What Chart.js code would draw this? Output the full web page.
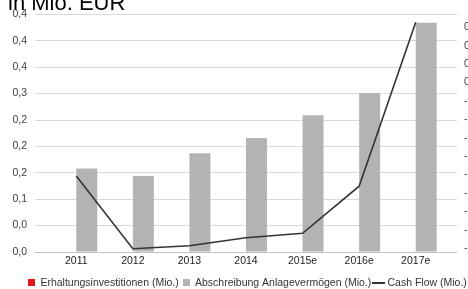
<!DOCTYPE html>
<html>
<head>
<meta charset="utf-8">
<script src="https://cdn.jsdelivr.net/npm/chart.js@4.4.0/dist/chart.umd.min.js"></script>
<style>
    html, body { margin: 0; padding: 0; background: #fff; overflow: hidden; width: 468px; height: 289px; }
    #myChartDiv { position: absolute; left: 0; top: -20px; width: 487px; height: 318px; }
</style>
</head>
<body>
<div id="myChartDiv"><canvas id="myChart" width="487" height="318"></canvas></div>
<script>
// data
const categories = ['2011', '2012', '2013', '2014', '2015e', '2016e', '2017e'];
const erhaltung = [null, null, null, null, null, null, null];
const abschreibung = [0.158, 0.144, 0.187, 0.216, 0.259, 0.301, 0.434];
const cashFlow = [-1.27, -2.26, -2.22, -2.11, -2.05, -1.41, 0.82];

const leftTickLabels = ['0,0', '0,0', '0,1', '0,2', '0,2', '0,2', '0,3', '0,4', '0,4', '0,4'];
const rightTickValues = [-2.25, -2.0, -1.75, -1.5, -1.25, -1.0, -0.75, -0.5, -0.25, 0, 0.25, 0.5, 0.75];
const rightTickLabels = ['-2,3', '-2,0', '-1,8', '-1,5', '-1,3', '-1,0', '-0,8', '-0,5', '-0,3', '0,0', '0,3', '0,5', '0,8'];

const fontFamily = '"Liberation Sans", Arial, sans-serif';
const gridColor = '#d9d9d9';
const baseColor = '#bfbfbf';

function makeMark(w, h, color) {
    var c = document.createElement('canvas');
    c.width = w;
    c.height = h;
    var g = c.getContext('2d');
    g.fillStyle = color;
    g.fillRect(0, 0, w, h);
    return c;
}

var legendMarks = [
    makeMark(7, 7, '#e3191c'),
    makeMark(7, 7, '#b3b3b3'),
    makeMark(13, 2, '#333333')
];

function gridLineColor(ctx) {
    return ctx.index === 0 ? baseColor : gridColor;
}

var ctx = document.getElementById('myChart');

var myChart = new Chart(ctx, {
    type: 'bar',
    data: {
        labels: categories,
        datasets: [
            {
                label: 'Erhaltungsinvestitionen (Mio.)',
                data: erhaltung,
                backgroundColor: '#e3191c',
                yAxisID: 'y',
                categoryPercentage: 0.742,
                barPercentage: 1
            },
            {
                label: 'Abschreibung Anlagevermögen (Mio.)',
                data: abschreibung,
                backgroundColor: '#b3b3b3',
                yAxisID: 'y',
                categoryPercentage: 0.742,
                barPercentage: 1
            },
            {
                type: 'line',
                label: 'Cash Flow (Mio.)',
                data: cashFlow,
                borderColor: '#333333',
                borderWidth: 1.6,
                pointRadius: 0,
                tension: 0,
                yAxisID: 'y1',
                order: -1
            }
        ]
    },
    options: {
        responsive: false,
        animation: false,
        layout: { padding: { left: 8, right: 0, top: 0, bottom: 0 } },
        plugins: {
            title: {
                display: true,
                text: 'in Mio. EUR',
                align: 'start',
                color: '#000',
                font: { family: fontFamily, size: 22, weight: 'normal' },
                padding: { top: 11, bottom: -3 }
            },
            legend: {
                position: 'bottom',
                labels: {
                    usePointStyle: true,
                    boxWidth: 7,
                    boxHeight: 7,
                    padding: 4,
                    color: '#333',
                    font: { family: fontFamily, size: 10.5 },
                    generateLabels: function (chart) {
                        return chart.data.datasets.map(function (ds, i) {
                            return {
                                text: ds.label,
                                pointStyle: legendMarks[i],
                                fillStyle: 'transparent',
                                strokeStyle: 'transparent',
                                lineWidth: 0,
                                hidden: false,
                                datasetIndex: i,
                                fontColor: '#333'
                            };
                        });
                    }
                }
            },
            tooltip: { enabled: false }
        },
        scales: {
            x: {
                grid: { display: false, drawTicks: false },
                border: { display: false },
                ticks: {
                    padding: 3,
                    color: '#222',
                    autoSkip: false,
                    maxRotation: 0,
                    font: { family: fontFamily, size: 10.5 }
                },
                afterFit: function (scale) { scale.height = 21.5; }
            },
            y: {
                position: 'left',
                min: 0,
                max: 0.45,
                border: { display: false },
                grid: { color: gridLineColor, tickLength: 13 },
                ticks: {
                    stepSize: 0.05,
                    padding: 8,
                    color: '#404040',
                    font: { family: fontFamily, size: 10.5 },
                    callback: function (value, index) { return leftTickLabels[index]; }
                },
                afterFit: function (scale) { scale.width = 40; }
            },
            // short stubs of the grid lines to the right of the plot
            y2: {
                position: 'right',
                weight: 0,
                min: 0,
                max: 0.45,
                border: { display: false },
                grid: { color: gridLineColor, drawOnChartArea: false, tickLength: 13 },
                ticks: { display: false, stepSize: 0.05 },
                afterFit: function (scale) { scale.width = 13; }
            },
            y1: {
                position: 'right',
                weight: 1,
                min: -2.304,
                max: 0.926,
                border: { display: false },
                grid: { display: false, drawTicks: false },
                ticks: {
                    padding: 7,
                    autoSkip: false,
                    color: '#404040',
                    font: { family: fontFamily, size: 10.5 },
                    callback: function (value, index) { return rightTickLabels[index]; }
                },
                afterBuildTicks: function (scale) {
                    scale.ticks = rightTickValues.map(function (v) { return { value: v }; });
                },
                afterFit: function (scale) { scale.width = 30; }
            }
        }
    }
});
</script>
</body>
</html>
